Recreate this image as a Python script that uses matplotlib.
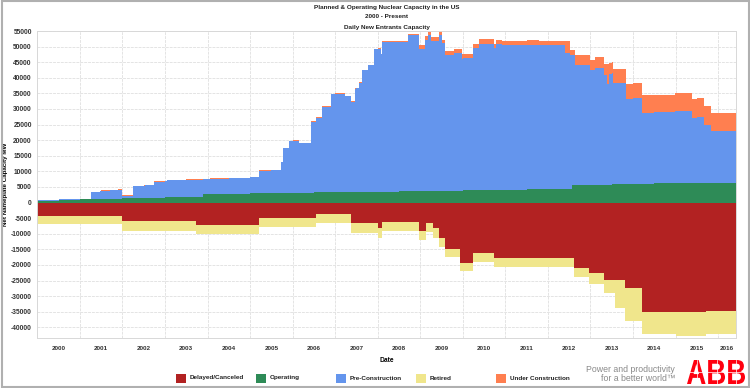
import numpy as np
import matplotlib
matplotlib.use("Agg")
import matplotlib.pyplot as plt
from matplotlib.patches import Rectangle, PathPatch
from matplotlib.textpath import TextPath
from matplotlib.font_manager import FontProperties
from matplotlib.path import Path

# ---------------- data (decimal year, MW) ----------------
operating = [(2000.0, 600), (2000.5, 800), (2001.0, 1000), (2001.5, 1250), (2002.0, 1400),
             (2002.5, 1550), (2003.0, 1700), (2003.5, 1850), (2003.89, 2750), (2004.5, 2850),
             (2005.0, 2950), (2005.5, 3050), (2006.0, 3150), (2006.5, 3250), (2007.0, 3350),
             (2007.5, 3450), (2008.0, 3550), (2008.5, 3650), (2009.0, 3750), (2009.5, 3850),
             (2010.0, 3950), (2010.5, 4050), (2011.0, 4150), (2011.5, 4250), (2012.0, 4350),
             (2012.57, 5600), (2013.0, 5750), (2013.5, 5900), (2014.0, 6050), (2014.5, 6150),
             (2015.0, 6250), (2015.5, 6320), (2016.0, 6380)]

pre_construction = [(2000.00, 230), (2000.77, 200), (2001.27, 2350), (2001.47, 2570), (2001.70, 2720),
                    (2001.89, 2880), (2001.98, 800), (2002.25, 3820), (2002.53, 4040), (2002.74, 5080),
                    (2003.04, 5440), (2003.58, 5530), (2003.89, 4750), (2004.05, 4830), (2004.47, 4960),
                    (2004.99, 5150), (2005.22, 7240), (2005.46, 7260), (2005.72, 9810), (2005.77, 14300),
                    (2005.91, 16610), (2006.16, 15820), (2006.42, 22700), (2006.54, 23960), (2006.68, 27450),
                    (2006.89, 31470), (2007.22, 30770), (2007.38, 28930), (2007.46, 33180), (2007.57, 34960),
                    (2007.62, 38930), (2007.76, 40600), (2007.92, 45700), (2008.07, 43940), (2008.11, 47830),
                    (2008.70, 50170), (2008.98, 45490), (2009.10, 48430), (2009.17, 49920), (2009.26, 48000),
                    (2009.45, 50100), (2009.50, 47200), (2009.59, 43430), (2009.80, 43940), (2009.97, 42300),
                    (2010.23, 45460), (2010.39, 46770), (2010.74, 45560), (2010.79, 46940), (2010.93, 46360),
                    (2011.80, 46180), (2012.39, 43620), (2012.53, 42860), (2012.57, 41700), (2012.64, 38480),
                    (2013.00, 36750), (2013.11, 37270), (2013.32, 35070), (2013.39, 32350), (2013.44, 35580),
                    (2013.54, 32550), (2013.84, 27420), (2014.22, 22730), (2014.99, 23110), (2015.39, 21010),
                    (2015.67, 18510), (2015.84, 16580)]

under_construction = [(2000.00, 100), (2001.27, 200), (2008.11, 300), (2008.98, 1270), (2009.10, 1300),
                      (2009.17, 900), (2009.26, 1400), (2009.45, 1160), (2009.50, 1050), (2009.59, 1400),
                      (2009.80, 1380), (2009.97, 1390), (2010.23, 1350), (2010.39, 1600), (2010.74, 1140),
                      (2010.79, 1280), (2010.93, 1390), (2011.80, 1290), (2012.39, 3750), (2012.53, 1600),
                      (2012.64, 3200), (2013.00, 3200), (2013.11, 3520), (2013.32, 3750), (2013.39, 6450),
                      (2013.44, 3530), (2013.54, 4280), (2013.84, 4830), (2014.22, 5670), (2014.99, 5860),
                      (2015.39, 6060), (2015.67, 6090), (2015.84, 5860)]

delayed_canceled = [(2000.00, 4200), (2001.98, 5900), (2003.72, 7180), (2005.22, 5030), (2006.56, 3750),
                    (2007.38, 6640), (2008.00, 8140), (2008.11, 6100), (2008.98, 9100), (2009.14, 6640),
                    (2009.29, 8240), (2009.45, 11440), (2009.59, 14970), (2009.94, 19250), (2010.23, 16250),
                    (2010.74, 17860), (2012.62, 20860), (2012.97, 22660), (2013.32, 24800), (2013.82, 27470),
                    (2014.22, 35160), (2015.72, 34740)]

retired = [(2000.00, 2760), (2001.98, 3100), (2003.72, 2880), (2005.22, 2890), (2006.56, 2890),
           (2007.38, 3010), (2008.00, 3300), (2008.11, 3000), (2008.98, 2890), (2009.14, 2680),
           (2009.29, 3200), (2009.45, 2940), (2009.59, 2600), (2009.94, 2670), (2010.23, 2690),
           (2010.74, 2680), (2012.62, 2880), (2012.97, 3520), (2013.32, 4260), (2013.58, 9080),
           (2013.82, 10480), (2014.22, 7060), (2015.01, 7490), (2015.72, 7480)]

end_date = 2016.42
years = list(range(2000, 2017))
legend_labels = ["Delayed/Canceled", "Operating", "Pre-Construction", "Retired", "Under Construction"]
colors = {"dc": "#B22222", "op": "#2E8B57", "pre": "#6495ED", "ret": "#F0E68C", "uc": "#FF7F50"}

# ---------------- helpers ----------------
def step_values(grid, series):
    d = np.array([p[0] for p in series])
    v = np.array([p[1] for p in series], dtype=float)
    idx = np.searchsorted(d, grid, side="right") - 1
    return v[np.clip(idx, 0, None)]

all_series = [operating, pre_construction, under_construction, delayed_canceled, retired]
grid = np.unique(np.concatenate([[p[0] for p in s] for s in all_series] + [[end_date]]))
op = step_values(grid, operating)
pre = step_values(grid, pre_construction)
uc = step_values(grid, under_construction)
dc = step_values(grid, delayed_canceled)
ret = step_values(grid, retired)

W, H = 750, 388
fig = plt.figure(figsize=(W / 100, H / 100), dpi=100)
fig.patch.set_facecolor("white")
family = ["Liberation Sans", "DejaVu Sans"]

ax_l, ax_r, ax_t, ax_b = 37.4, 736, 31, 338
ax = fig.add_axes([ax_l / W, 1 - ax_b / H, (ax_r - ax_l) / W, (ax_b - ax_t) / H])

kw = dict(step="post", lw=0, antialiased=True)
ax.fill_between(grid, 0, op, color=colors["op"], **kw)
ax.fill_between(grid, op, op + pre, color=colors["pre"], **kw)
ax.fill_between(grid, op + pre, op + pre + uc, color=colors["uc"], **kw)
ax.fill_between(grid, 0, -dc, color=colors["dc"], **kw)
ax.fill_between(grid, -dc, -dc - ret, color=colors["ret"], **kw)

ax.set_xlim(2000, end_date)
ax.set_ylim(-43400, 55000)
yt = np.arange(-40000, 55001, 5000)
ax.set_yticks(yt)
ax.set_yticklabels([str(v) for v in yt], fontsize=4.8, fontweight="bold",
                   color="#333333", family=family)
ax.set_xticks(years)
ax.set_xticklabels([])
centers = [(y + end_date) / 2 if y + 1 > end_date else y + 0.5 for y in years]
ax.set_xticks(centers, minor=True)
ax.set_xticklabels([str(y) for y in years], minor=True, fontsize=4.6, fontweight="bold",
                   color="#333333", family=family)
ax.tick_params(axis="both", which="both", length=0, pad=4)
ax.tick_params(axis="x", which="minor", pad=6)
ax.grid(True, which="major", color="#e4e4e4", lw=0.7, ls=(0, (3, 1)))
ax.set_axisbelow(True)
for s in ax.spines.values():
    s.set_color("#d8d8d8")
    s.set_linewidth(0.7)
ax.set_xlabel("Date", fontsize=4.8, fontweight="bold", family=family)
ax.xaxis.set_label_coords(0.5, -(357 - ax_b) / (ax_b - ax_t))
ax.set_ylabel("Net Nameplate Capacity MW", fontsize=4.5, fontweight="bold", family=family)
ax.yaxis.set_label_coords(-(ax_l - 8.5) / (ax_r - ax_l), 0.5)

# titles
cx = (ax_l + ax_r) / 2 / W
for txt, yy in [("Planned & Operating Nuclear Capacity in the US", 7),
                ("2000 - Present", 17), ("Daily New Entrants Capacity", 27)]:
    fig.text(cx, 1 - yy / H, txt, ha="center", va="center", fontsize=4.6,
             fontweight="bold", family=family, color="#222222")

# legend
leg_x = [176, 256, 336, 416, 496]
leg_c = [colors["dc"], colors["op"], colors["pre"], colors["ret"], colors["uc"]]
for x0, c, lab in zip(leg_x, leg_c, legend_labels):
    fig.patches.append(Rectangle((x0 / W, 1 - 382.5 / H), 9.5 / W, 9 / H,
                                 transform=fig.transFigure, color=c, lw=0))
    fig.text((x0 + 14) / W, 1 - 378 / H, lab, ha="left", va="center", fontsize=4.6,
             fontweight="bold", family=family, color="#222222")

# tagline and logo
fig.text(675 / W, 1 - 369 / H, "Power and productivity", ha="right", va="center",
         fontsize=6.3, color="#8a8a8a", family=family)
fig.text(676 / W, 1 - 378.5 / H, "for a better world\u2122", ha="right", va="center",
         fontsize=6.3, color="#8a8a8a", family=family)

lx0, lx1, ly0, ly1 = 687, 745, 360, 384
lax = fig.add_axes([lx0 / W, 1 - ly1 / H, (lx1 - lx0) / W, (ly1 - ly0) / H])
lax.set_axis_off()
tp = TextPath((0, 0), "ABB", prop=FontProperties(family="Liberation Sans", weight="bold"), size=10)
verts = tp.vertices.copy()
ext = tp.get_extents()
verts[:, 0] = (verts[:, 0] - ext.x0) / ext.width
verts[:, 1] = (verts[:, 1] - ext.y0) / ext.height
lax.add_patch(PathPatch(Path(verts, tp.codes), color="#FF000F", lw=0))
lax.axhline(0.5, color="white", lw=0.5)
for xv in [0.17, 0.52, 0.84]:
    lax.axvline(xv, color="white", lw=0.5)
lax.set_xlim(0, 1)
lax.set_ylim(0, 1)

# border
fig.patches.append(Rectangle((0.002, 0.003), 0.996, 0.994, transform=fig.transFigure,
                             fill=False, ec="#b0b0b0", lw=1.5))

fig.savefig("out.png", dpi=100, facecolor="white")
